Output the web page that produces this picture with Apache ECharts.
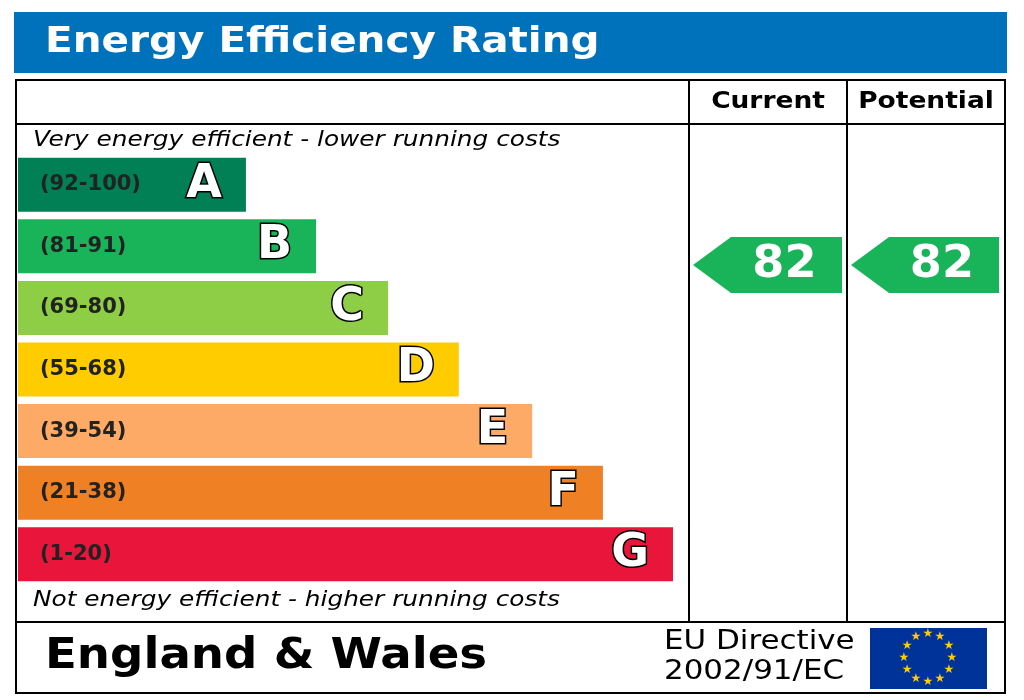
<!DOCTYPE html>
<html>
<head>
<meta charset="utf-8">
<script src="https://cdn.jsdelivr.net/npm/echarts@6/dist/echarts.min.js"></script>
<style>
  html, body { margin: 0; padding: 0; background: #fff; }
  #chart { width: 1024px; height: 700px; }
</style>
</head>
<body>
<div id="chart"></div>
<script>
  // band data, top (A) to bottom (G)
  var letters = ['A', 'B', 'C', 'D', 'E', 'F', 'G'];
  var ranges  = ['(92-100)', '(81-91)', '(69-80)', '(55-68)', '(39-54)', '(21-38)', '(1-20)'];
  var lengths = [34.8, 45.5, 56.5, 67.3, 78.5, 89.3, 100];
  var colors  = ['#008054', '#19b459', '#8dce46', '#ffcc00', '#fcaa65', '#ef8023', '#e9153b'];
  var current = 82;
  var potential = 82;
  var scoreColor = '#19b459';

  var chart = echarts.init(document.getElementById('chart'));
  var font = '"DejaVu Sans", Verdana, sans-serif';

  function txt(x, y, s, f, sx, align, color) {
    return { type: 'text', x: x, y: y, scaleX: sx || 1, z: 11,
      style: { text: s, font: f + ' ' + font, fill: color || '#000', align: align || 'left', verticalAlign: 'middle' } };
  }

  function arrow(x0, x1, val) {
    return [{
      type: 'polygon', z: 10,
      shape: { points: [[x0, 265], [x0 + 38, 237], [x1, 237], [x1, 293], [x0 + 38, 293]] },
      style: { fill: scoreColor }
    }, txt((x0 + 38 + x1) / 2 - 2, 266, String(val), 'bold 44px', 1.05, 'center', '#fff')];
  }

  function line(x1, y1, x2, y2) {
    return { type: 'line', shape: { x1: x1, y1: y1, x2: x2, y2: y2 }, style: { stroke: '#000', lineWidth: 2 } };
  }

  var g = [
    { type: 'rect', shape: { x: 14, y: 12, width: 993, height: 61 }, style: { fill: '#0072bb' } },
    txt(45, 43, 'Energy Efficiency Rating', 'bold 36px', 1.125, 'left', '#fff'),
    { type: 'rect', shape: { x: 16, y: 80, width: 989, height: 613 }, style: { fill: 'none', stroke: '#000', lineWidth: 2 } },
    line(16, 124, 1005, 124), line(16, 622, 1005, 622),
    line(689, 80, 689, 622), line(847, 80, 847, 622),
    txt(768, 102, 'Current', 'bold 23px', 1.15, 'center'),
    txt(926, 102, 'Potential', 'bold 23px', 1.15, 'center'),
    txt(33, 141, 'Very energy efficient - lower running costs', 'italic 21px', 1.18),
    txt(33, 601, 'Not energy efficient - higher running costs', 'italic 21px', 1.18),
    txt(45, 657, 'England & Wales', 'bold 42px', 1.11),
    txt(664, 642, 'EU Directive', '26px', 1.19),
    txt(664, 672, '2002/91/EC', '26px', 1.19),
    { type: 'rect', shape: { x: 870, y: 628, width: 117, height: 61 }, style: { fill: '#003399' } }
  ].concat(arrow(693, 842, current), arrow(851, 999, potential));

  for (var i = 0; i < 12; i++) {
    var a = i * Math.PI / 6;
    g.push({ type: 'text', x: 928 + 24 * Math.sin(a), y: 658 - 24 * Math.cos(a),
      style: { text: '★', fill: '#ffcc00', font: '12px DejaVu Sans', align: 'center', verticalAlign: 'middle' } });
  }

  chart.setOption({
    animation: false,
    grid: { left: 18, right: 1024 - 673, top: 157 - 3, bottom: 700 - 582 - 3 },
    xAxis: { type: 'value', min: 0, max: 100, show: false },
    yAxis: { type: 'category', data: letters, inverse: true, show: false },
    series: [{
      type: 'bar', barWidth: 54,
      data: lengths.map(function (v, i) { return { value: v, itemStyle: { color: colors[i] } }; }),
      label: {
        show: true, position: 'insideLeft', distance: 22,
        formatter: function (p) { return ranges[p.dataIndex]; },
        color: '#222', fontFamily: font, fontWeight: 'bold', fontSize: 21
      }
    }, {
      type: 'bar', barWidth: 54, barGap: '-100%',
      data: lengths, itemStyle: { color: 'transparent' },
      label: {
        show: true, position: 'insideRight', distance: 24,
        formatter: function (p) { return letters[p.dataIndex]; },
        color: '#fff', fontFamily: font, fontWeight: 'bold', fontSize: 46,
        textBorderColor: '#000', textBorderWidth: 3
      }
    }],
    graphic: g
  });
</script>
</body>
</html>
